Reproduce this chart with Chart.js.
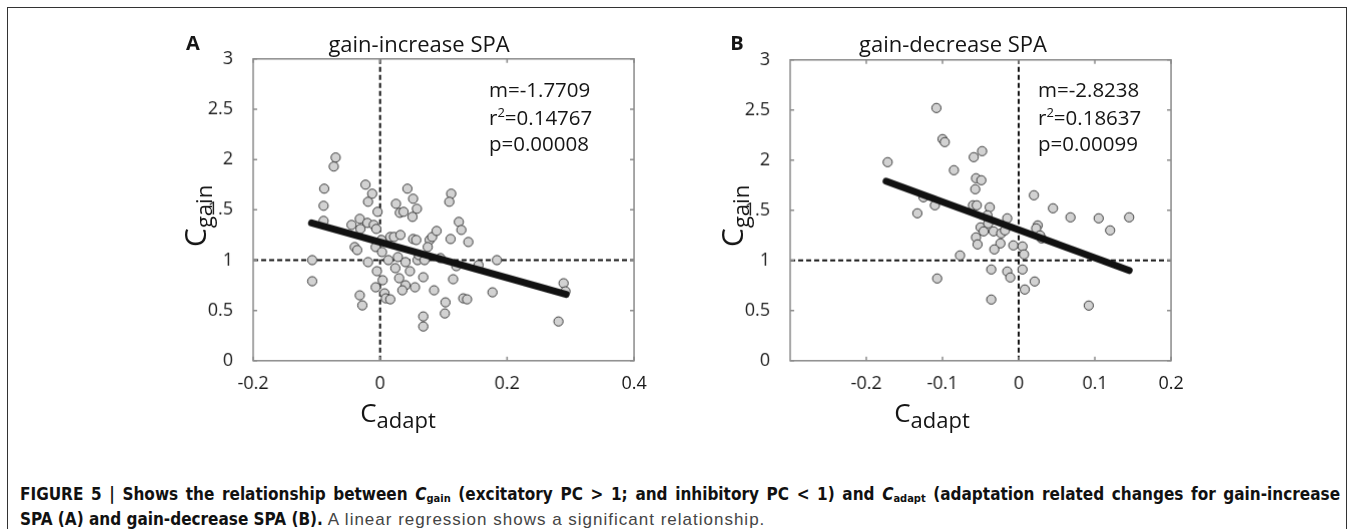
<!DOCTYPE html>
<html>
<head>
<meta charset="utf-8">
<script src="https://cdn.jsdelivr.net/npm/chart.js@4.4.0/dist/chart.umd.min.js"></script>
<style>
  body { margin: 0; background: #fff; width: 1354px; height: 529px; overflow: hidden; position: relative; font-family: "Open Sans", sans-serif; color: #151515; }
  #frame { position: absolute; left: 7px; top: 7px; width: 1338px; height: 540px; border: 1.5px solid #333; border-bottom: none; }
  .panel { position: absolute; }
  .t { position: absolute; white-space: nowrap; line-height: 1; }
  .c { transform: translate(-50%, -50%); }
  .lbl { font-weight: bold; font-size: 20px; }
  .ttl { font-size: 22px; }
  .stat { font-size: 20.5px; }
  .stat sup { font-size: 13px; vertical-align: 8px; }
  .ylab { font-size: 30px; transform: translate(-50%, -50%) rotate(-90deg); }
  .ylab span, .xlab span { font-size: 22px; position: relative; top: 6px; }
  .xlab { font-size: 26px; }
  #caption { position: absolute; left: 20px; top: 484px; width: 1320px; line-height: 21px; }
  #caption .l1 { font-family: "Liberation Sans Narrow", "DejaVu Sans Condensed", sans-serif; font-size: 17px; font-weight: bold; color: #111; text-align: justify; text-align-last: justify; }
  #caption .l2 { font-family: "Liberation Sans Narrow", "DejaVu Sans Condensed", sans-serif; font-size: 17px; white-space: nowrap; }
  #caption .l2 b { color: #111; }
  #caption .reg { font-family: "Liberation Sans", sans-serif; font-size: 17px; letter-spacing: 1px; color: #444; font-weight: normal; }
  #caption sub { font-size: 11px; vertical-align: -2px; }
</style>
</head>
<body>
<div id="frame"></div>

<div class="panel" id="wrapA"><canvas id="chartA" width="450" height="351"></canvas></div>
<div class="panel" id="wrapB"><canvas id="chartB" width="450" height="350"></canvas></div>

<div class="t lbl c" style="left:193px; top:43px;">A</div>
<div class="t ttl c" style="left:419px; top:43px;">gain-increase SPA</div>
<div class="t stat" style="left:489px; top:79px;">m=-1.7709</div>
<div class="t stat" style="left:489px; top:106px;">r<sup>2</sup>=0.14767</div>
<div class="t stat" style="left:489px; top:133px;">p=0.00008</div>
<div class="t ylab" style="left:195px; top:216px;">C<span>gain</span></div>
<div class="t xlab c" style="left:398px; top:412px;">C<span>adapt</span></div>

<div class="t lbl c" style="left:737px; top:43px;">B</div>
<div class="t ttl c" style="left:953px; top:43px;">gain-decrease SPA</div>
<div class="t stat" style="left:1038px; top:79px;">m=-2.8238</div>
<div class="t stat" style="left:1038px; top:106px;">r<sup>2</sup>=0.18637</div>
<div class="t stat" style="left:1038px; top:133px;">p=0.00099</div>
<div class="t ylab" style="left:732px; top:216px;">C<span>gain</span></div>
<div class="t xlab c" style="left:932px; top:412px;">C<span>adapt</span></div>

<div id="caption">
<div class="l1">FIGURE 5 | Shows the relationship between <i>C</i><sub>gain</sub> (excitatory PC &gt; 1; and inhibitory PC &lt; 1) and <i>C</i><sub>adapt</sub> (adaptation related changes for gain-increase</div>
<div class="l2"><b>SPA (A) and gain-decrease SPA (B).</b> <span class="reg">A linear regression shows a significant relationship.</span></div>
</div>

<script>
// panel A: gain-increase SPA
const adaptA = [-0.070, -0.073, -0.088, -0.089, -0.089, -0.107, -0.107, -0.023, -0.0125, -0.019, -0.004, -0.045, -0.032, -0.020, -0.031, -0.010, -0.006, -0.040, -0.036, -0.007, -0.019, -0.005, 0.004, -0.007, 0.007, 0.009, 0.016, -0.032, -0.028,
  0.016, 0.022, 0.032, 0.025, 0.031, 0.037, 0.043, 0.052, 0.058, 0.051, 0.052, 0.057, 0.028, 0.040, 0.047, 0.024, 0.030, 0.040, 0.035, 0.055, 0.068, 0.068, 0.068, 0.085, 0.078, 0.082, 0.089, 0.075, 0.059, 0.061,
  0.112, 0.109, 0.124, 0.128, 0.111, 0.139, 0.184, 0.155, 0.115, 0.103, 0.102, 0.131, 0.137, 0.177, 0.289, 0.292, 0.281, 0.120, 0.002, 0.013, 0.003, 0.070, 0.095];
const gainA = [2.02, 1.93, 1.71, 1.54, 1.39, 1.00, 0.79, 1.75, 1.66, 1.58, 1.48, 1.35, 1.41, 1.37, 1.31, 1.35, 1.31, 1.13, 1.10, 1.13, 0.98, 0.89, 0.80, 0.73, 0.67, 0.62, 0.61, 0.65, 0.55,
  1.23, 1.23, 1.25, 1.56, 1.47, 1.48, 1.71, 1.61, 1.51, 1.43, 1.21, 1.20, 1.03, 0.98, 0.89, 0.92, 0.82, 0.75, 0.70, 0.73, 0.83, 0.44, 0.34, 0.70, 1.20, 1.23, 1.29, 1.13, 1.00, 1.05,
  1.66, 1.58, 1.38, 1.30, 1.21, 1.18, 1.00, 0.95, 0.81, 0.58, 0.47, 0.62, 0.61, 0.68, 0.77, 0.69, 0.39, 0.94, 1.20, 1.00, 1.08, 1.00, 1.02];
const fitXA = [-0.108, 0.293];
const fitYA = [1.37, 0.66];

// panel B: gain-decrease SPA
const adaptB = [-0.108, -0.100, -0.097, -0.172, -0.085, -0.059, -0.048, -0.056, -0.049, -0.057, -0.133, -0.125, -0.110, -0.060, -0.055, -0.038, -0.015, -0.041, -0.050, -0.046, -0.033, -0.023, -0.056, -0.054, -0.024, -0.032,
  -0.007, 0.005, 0.007, -0.077, -0.036, -0.015, -0.011, 0.005, 0.021, 0.008, -0.107, -0.036, 0.020, 0.025, 0.023, 0.030, 0.028, 0.045, 0.068, 0.105, 0.120, 0.145, 0.092, -0.040, -0.018];
const gainB = [2.52, 2.21, 2.18, 1.98, 1.90, 2.03, 2.09, 1.82, 1.80, 1.71, 1.47, 1.63, 1.55, 1.55, 1.55, 1.53, 1.42, 1.45, 1.33, 1.29, 1.29, 1.27, 1.23, 1.16, 1.17, 1.11,
  1.15, 1.14, 1.06, 1.05, 0.91, 0.89, 0.83, 0.91, 0.79, 0.71, 0.82, 0.61, 1.65, 1.35, 1.32, 1.22, 1.25, 1.52, 1.43, 1.42, 1.30, 1.43, 0.55, 1.37, 1.30];
const fitXB = [-0.174, 0.145];
const fitYB = [1.79, 0.90];

const yTicks = [0, 0.5, 1, 1.5, 2, 2.5, 3];
const xTicksA = [-0.2, 0, 0.2, 0.4];
const xTicksB = [-0.2, -0.1, 0, 0.1, 0.2];

// box around the axes with inward ticks, like the matlab figure
const boxPlugin = {
  id: 'box',
  afterDatasetsDraw(chart) {
    const { ctx, chartArea: a, scales } = chart;
    ctx.save();
    ctx.strokeStyle = '#8a8a8a';
    ctx.lineWidth = 1.5;
    ctx.strokeRect(a.left, a.top, a.right - a.left, a.bottom - a.top);
    ctx.beginPath();
    scales.x.ticks.forEach(t => {
      const px = scales.x.getPixelForValue(t.value);
      ctx.moveTo(px, a.bottom); ctx.lineTo(px, a.bottom - 4);
      ctx.moveTo(px, a.top); ctx.lineTo(px, a.top + 4);
    });
    scales.y.ticks.forEach(t => {
      const py = scales.y.getPixelForValue(t.value);
      ctx.moveTo(a.left, py); ctx.lineTo(a.left + 4, py);
      ctx.moveTo(a.right, py); ctx.lineTo(a.right - 4, py);
    });
    ctx.stroke();
    ctx.restore();
  }
};

function makeChart(id, xs, ys, fitX, fitY, xMin, xMax, xTicks) {
  const pts = xs.map((x, i) => ({ x: x, y: ys[i] }));
  const fit = fitX.map((x, i) => ({ x: x, y: fitY[i] }));
  const tickFont = { family: 'Open Sans', size: 18 };
  return new Chart(document.getElementById(id), {
    type: 'scatter',
    data: {
      datasets: [
        { data: fit, showLine: true, borderColor: '#111', borderWidth: 7, pointRadius: 0, borderCapStyle: 'round', order: 0 },
        { data: pts, backgroundColor: '#d2d2d2', borderColor: '#3a3a3a', borderWidth: 1, pointRadius: 4.6, order: 1 },
        { data: [{ x: xMin, y: 1 }, { x: xMax, y: 1 }], showLine: true, borderColor: '#111', borderWidth: 2, borderDash: [5, 3], pointRadius: 0, order: 2 },
        { data: [{ x: 0, y: 0 }, { x: 0, y: 3 }], showLine: true, borderColor: '#111', borderWidth: 2, borderDash: [5, 3], pointRadius: 0, order: 2 }
      ]
    },
    options: {
      responsive: false,
      maintainAspectRatio: false,
      animation: false,
      events: [],
      layout: { autoPadding: false, padding: { top: 10, right: 10, left: 0, bottom: 0 } },
      plugins: { legend: { display: false }, tooltip: { enabled: false } },
      scales: {
        x: {
          min: xMin, max: xMax,
          afterBuildTicks: s => { s.ticks = xTicks.map(v => ({ value: v })); },
          afterFit: s => { s.height = 40; },
          grid: { display: false },
          border: { display: false },
          ticks: { font: tickFont, color: '#1a1a1a', padding: 4, maxRotation: 0, autoSkip: false, callback: v => String(v) }
        },
        y: {
          min: 0, max: 3,
          afterBuildTicks: s => { s.ticks = yTicks.map(v => ({ value: v })); },
          afterFit: s => { s.width = 60; },
          grid: { display: false },
          border: { display: false },
          ticks: { font: tickFont, color: '#1a1a1a', padding: 12, autoSkip: false, callback: v => String(v) }
        }
      }
    },
    plugins: [boxPlugin]
  });
}

// put the plot box where the figure has it
function place(chart, wrap, box) {
  let a = chart.chartArea;
  chart.resize(chart.width + box.w - (a.right - a.left), chart.height + box.h - (a.bottom - a.top));
  a = chart.chartArea;
  wrap.style.left = (box.x - a.left) + 'px';
  wrap.style.top = (box.y - a.top) + 'px';
}

const chartA = makeChart('chartA', adaptA, gainA, fitXA, fitYA, -0.2, 0.4, xTicksA);
const chartB = makeChart('chartB', adaptB, gainB, fitXB, fitYB, -0.3, 0.2, xTicksB);
place(chartA, document.getElementById('wrapA'), { x: 253, y: 59, w: 380, h: 301 });
place(chartB, document.getElementById('wrapB'), { x: 790, y: 60, w: 380, h: 300 });
</script>
</body>
</html>
